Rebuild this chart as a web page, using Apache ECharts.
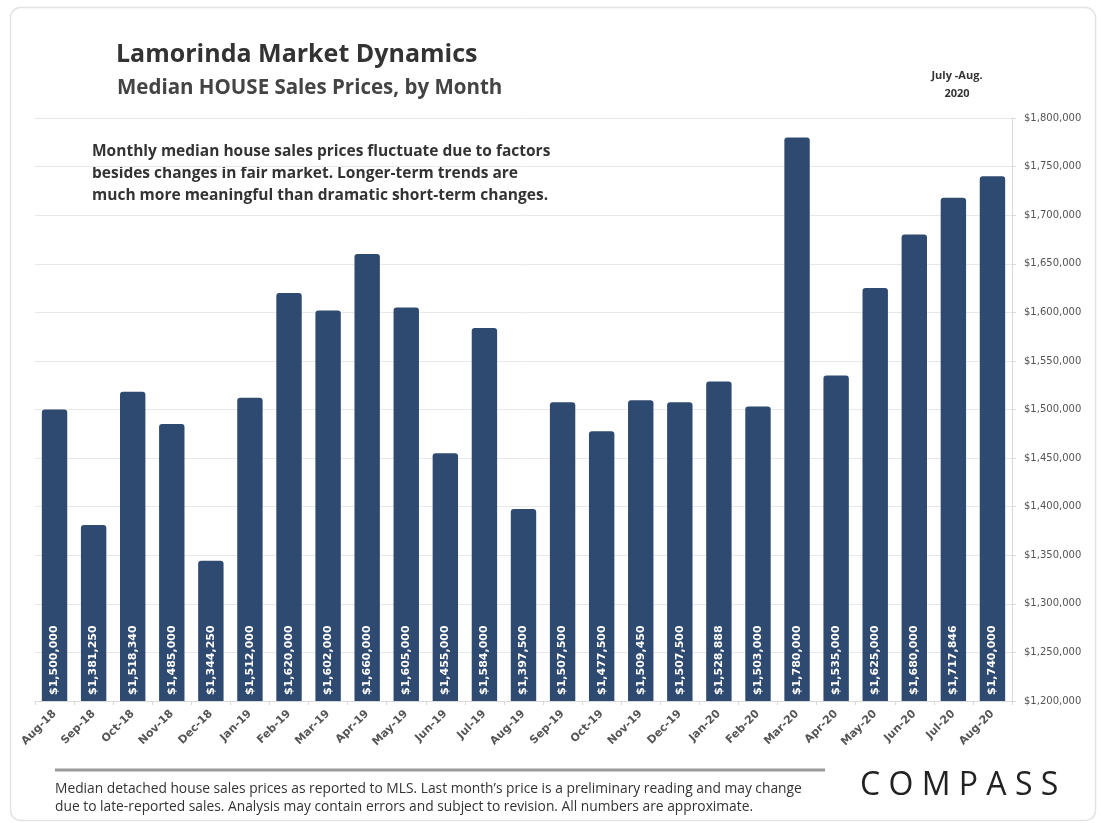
<!DOCTYPE html>
<html><head><meta charset="utf-8">
<script src="https://cdn.jsdelivr.net/npm/echarts@6/dist/echarts.min.js"></script>
<style>html,body{margin:0;padding:0;background:#fff}#c{width:1101px;height:823px}</style>
</head><body><div id="c"></div>
<script>
const months = ["Aug-18","Sep-18","Oct-18","Nov-18","Dec-18","Jan-19","Feb-19","Mar-19","Apr-19","May-19","Jun-19","Jul-19","Aug-19","Sep-19","Oct-19","Nov-19","Dec-19","Jan-20","Feb-20","Mar-20","Apr-20","May-20","Jun-20","Jul-20","Aug-20"];
const medianPrices = [1500000,1381250,1518340,1485000,1344250,1512000,1620000,1602000,1660000,1605000,1455000,1584000,1397500,1507500,1477500,1509450,1507500,1528888,1503000,1780000,1535000,1625000,1680000,1717846,1740000];
const yMin = 1200000, yMax = 1800000, yStep = 50000;
const titleText = "Lamorinda Market Dynamics";
const subtitleText = "Median HOUSE Sales Prices, by Month";
const periodText = "July -Aug.\n2020";
const noteLines = ["Monthly median house sales prices fluctuate due to factors","besides changes in fair market. Longer-term trends are","much more meaningful than dramatic short-term changes."];
const footerLines = ["Median detached house sales prices as reported to MLS. Last month\u2019s price is a preliminary reading and may change","due to late-reported sales. Analysis may contain errors and subject to revision. All numbers are approximate."];
const logoText = "C O M P A S S";

const fmt = v => "$" + v.toLocaleString("en-US");
const FONT = "'Open Sans', 'Liberation Sans', sans-serif";
const DJ = "'DejaVu Sans', sans-serif";
const chart = echarts.init(document.getElementById('c'));
chart.setOption({
  backgroundColor: '#fff',
  animation: false,
  grid: {left: 35, right: 89, top: 118, bottom: 122, containLabel: false},
  xAxis: {
    type: 'category', data: months,
    axisLine: {show: true, lineStyle: {color: '#d9d9d9'}},
    axisTick: {show: true, lineStyle: {color: '#d9d9d9'}, length: 4},
    axisLabel: {rotate: 45, interval: 0, fontSize: 11, fontWeight: 'bold', color: '#555', fontFamily: DJ, margin: 11}
  },
  yAxis: {
    type: 'value', position: 'right', min: yMin, max: yMax, interval: yStep,
    axisLine: {show: true, lineStyle: {color: '#d9d9d9'}},
    axisTick: {show: true, length: 4, lineStyle: {color: '#d9d9d9'}},
    splitLine: {show: true, lineStyle: {color: '#e8e8e8'}},
    axisLabel: {formatter: fmt, fontSize: 10, color: '#555', fontFamily: DJ, margin: 12}
  },
  series: [{
    type: 'bar', data: medianPrices, barWidth: '65%',
    itemStyle: {color: '#2f4a70', borderRadius: [3,3,0,0]},
    label: {show: true, position: 'insideBottom', rotate: 90, align: 'left', verticalAlign: 'middle', distance: 6,
      formatter: p => fmt(p.value), color: '#fff', fontSize: 11, fontWeight: 'bold', fontFamily: DJ}
  }],
  graphic: [
    {type: 'rect', left: 8, top: 5, shape: {width: 1085, height: 813, r: 10}, style: {fill: 'none', stroke: '#e3e3e3', lineWidth: 1.5}, silent: true, z: -10},
    {type: 'text', left: 116, top: 42, style: {text: titleText, font: "bold 25px " + FONT, fill: '#333'}},
    {type: 'text', left: 117, top: 78, style: {text: subtitleText, font: "bold 20.5px " + FONT, fill: '#444'}},
    {type: 'text', x: 957, y: 67, style: {text: periodText, font: "bold 11px " + FONT, fill: '#333', align: 'center', lineHeight: 18}},
    {type: 'text', left: 92, top: 141, style: {text: noteLines.join("\n"), font: "bold 15.5px " + FONT, fill: '#333', lineHeight: 22}},
    {type: 'line', shape: {x1: 55, y1: 770, x2: 825, y2: 770}, style: {stroke: '#9a9a9a', lineWidth: 3}},
    {type: 'text', left: 55, top: 780, style: {text: footerLines.join("\n"), font: "13.8px " + FONT, fill: '#333', lineHeight: 18}},
    {type: 'text', left: 860, top: 770, style: {text: logoText, font: "32px " + FONT, fill: '#222'}}
  ]
});
</script></body></html>
